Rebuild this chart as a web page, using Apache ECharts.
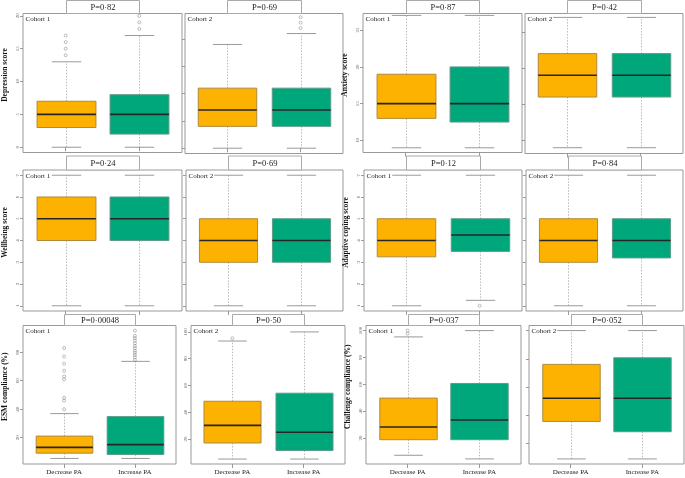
<!DOCTYPE html>
<html>
<head>
<meta charset="utf-8">
<script src="https://cdn.jsdelivr.net/npm/echarts@6/dist/echarts.min.js"></script>
<style>
  html, body { margin: 0; padding: 0; background: #fff; }
  #chart { width: 685px; height: 478px; }
</style>
</head>
<body>
<div id="chart"></div>
<script>
// x categories
const groups = ["Decrease PA", "Increase PA"];

// box stats [min, Q1, median, Q3, max] for Decrease PA / Increase PA
const depC1 = [[0, 3, 5, 7, 13], [0, 2, 5, 8, 17]];
const depC2 = [[0, 4, 7, 11, 19], [0, 4, 7, 11, 21]];
const anxC1 = [[9, 13, 15, 19, 27], [9, 12.5, 15, 20, 27]];
const anxC2 = [[9, 16, 19, 22, 27], [9, 16, 19, 22, 27]];
const wellC1 = [[1, 4, 5, 6, 7], [1, 4, 5, 6, 7]];
const wellC2 = [[1, 3, 4, 5, 7], [1, 3, 4, 5, 7]];
const copC1 = [[1, 3.25, 4, 5, 7], [1.25, 3.5, 4.25, 5, 7]];
const copC2 = [[1, 3, 4, 5, 7], [1, 3.2, 4, 5, 7]];
const esmC1 = [[5.4, 9.1, 13.2, 21.1, 36.9], [5.4, 8.2, 15.1, 34.8, 73.6]];
const esmC2 = [[5, 17, 30.2, 48.2, 93.2], [5, 11.4, 25, 54.2, 100]];
const chlC1 = [[7.1, 18.7, 28.2, 49.7, 95.3], [4.4, 18.7, 33.4, 60.6, 100]];
const chlC2 = [[8.9, 35.5, 52, 76, 100], [8.9, 28.2, 52, 80.7, 100]];

// outliers, Decrease PA / Increase PA
const depC1Out = [[14, 15, 16, 17], [18, 19, 20]];
const depC2Out = [[], [22, 23, 24]];
const copC1Out = [[], [1]];
const esmC1Out = [[83, 77, 72, 67, 63, 61, 48, 46, 40],
  [95.2, 91.5, 89.9, 88.2, 86.3, 84.4, 82.8, 81.1, 79.7, 78.1, 76.5, 74.6]];
const esmC2Out = [[95.2], []];
const chlC1Out = [[97.7, 100], []];
const none = [[], []];

const pValues = ["P=0·82", "P=0·69", "P=0·87", "P=0·42",
  "P=0·24", "P=0·69", "P=0·12", "P=0·84",
  "P=0·00048", "P=0·50", "P=0·037", "P=0·052"];

const yNames = ["Depression score", "", "Anxiety score", "",
  "Wellbeing score", "", "Adaptive coping score", "",
  "ESM compliance (%)", "", "Challenge compliance (%)", ""];

const cohorts = ["Cohort 1", "Cohort 2", "Cohort 1", "Cohort 2",
  "Cohort 1", "Cohort 2", "Cohort 1", "Cohort 2",
  "Cohort 1", "Cohort 2", "Cohort 1", "Cohort 2"];

const yTicks = [[0, 5, 10, 15, 20], [0, 5, 10, 15, 20], [10, 15, 20, 25], [10, 15, 20, 25],
  [1, 2, 3, 4, 5, 6, 7], [1, 2, 3, 4, 5, 6, 7], [1, 2, 3, 4, 5, 6, 7], [1, 2, 3, 4, 5, 6, 7],
  [20, 40, 60, 80], [20, 40, 60, 80, 100], [20, 40, 60, 80, 100], [20, 40, 60, 80, 100]];

const stats = [depC1, depC2, anxC1, anxC2, wellC1, wellC2, copC1, copC2, esmC1, esmC2, chlC1, chlC2];
const outs = [depC1Out, depC2Out, none, none, none, none, copC1Out, none, esmC1Out, esmC2Out, chlC1Out, none];

// panel layout: [left, top, width, height], y range, bracket height
const layout = [
  [23, 13.5, 159, 139], [185, 13.5, 158, 140], [363, 13.5, 159, 139], [525, 13.5, 158, 140],
  [23, 170, 159, 141], [186, 170, 157, 141], [364, 170, 158, 141], [526, 170, 157, 141],
  [23, 325.5, 153, 138.5], [191, 325.5, 154, 138.5], [366, 325.5, 155, 138.5], [529, 325.5, 155, 138.5]
];
const yRange = [[-0.8, 20.35], [-0.97, 24.67], [8.36, 27.26], [8.2, 27.54],
  [0.76, 7.24], [0.76, 7.24], [0.76, 7.24], [0.76, 7.24],
  [1.5, 98.8], [1.3, 104.8], [0.6, 103.8], [5.3, 103.6]];
const bracketH = [13, 13, 13, 13, 14, 14, 14, 14, 11, 11, 11, 11];

const fills = ["#FDB100", "#00A77B"];
const strokes = ["#b08a3c", "#5f9c88"];
const serif = "Liberation Serif";

function renderBox(params, api) {
  const x = api.value(0);
  const lo = api.coord([x, api.value(1)]);
  const q1 = api.coord([x, api.value(2)]);
  const med = api.coord([x, api.value(3)]);
  const q3 = api.coord([x, api.value(4)]);
  const hi = api.coord([x, api.value(5)]);
  const w = api.size([0.8, 0])[0];
  const cx = Math.round(lo[0]) + 0.5;
  const k = x - 1;
  const whisker = { stroke: "#aaa", lineWidth: 0.8, lineDash: [1.5, 1.5] };
  const cap = { stroke: "#999", lineWidth: 1 };
  return {
    type: "group",
    children: [
      { type: "line", shape: { x1: cx, y1: q3[1], x2: cx, y2: hi[1] }, style: whisker },
      { type: "line", shape: { x1: cx, y1: q1[1], x2: cx, y2: lo[1] }, style: whisker },
      { type: "line", shape: { x1: cx - w / 4, y1: hi[1], x2: cx + w / 4, y2: hi[1] }, style: cap },
      { type: "line", shape: { x1: cx - w / 4, y1: lo[1], x2: cx + w / 4, y2: lo[1] }, style: cap },
      { type: "rect", shape: { x: cx - w / 2, y: q3[1], width: w, height: q1[1] - q3[1] },
        style: { fill: fills[k], stroke: strokes[k], lineWidth: 1 } },
      { type: "line", shape: { x1: cx - w / 2, y1: med[1], x2: cx + w / 2, y2: med[1] },
        style: { stroke: "#262626", lineWidth: 1.6 } }
    ]
  };
}

function makeBracket(i) {
  return function (params, api) {
    const a = api.coord([api.value(0), api.value(2)]);
    const b = api.coord([api.value(1), api.value(2)]);
    const top = params.coordSys.y;
    const h = bracketH[i];
    const x1 = Math.round(a[0]) + 0.5, x2 = Math.round(b[0]) + 0.5;
    return {
      type: "group",
      children: [
        { type: "rect", shape: { x: x1, y: top - h, width: x2 - x1, height: h },
          style: { fill: "#fff", stroke: "#aaa", lineWidth: 1 } },
        { type: "text", style: { text: pValues[i], x: (x1 + x2) / 2, y: top - h / 2 + 0.5,
          align: "center", verticalAlign: "middle", fontFamily: serif, fontSize: 8.5, fill: "#222" } }
      ]
    };
  };
}

const grid = [], xAxis = [], yAxis = [], series = [], title = [];
layout.forEach(function (L, i) {
  const col = i % 4, row = Math.floor(i / 4);
  grid.push({ left: L[0], top: L[1], width: L[2], height: L[3], show: true,
    borderColor: "#999", borderWidth: 1, backgroundColor: "transparent" });
  xAxis.push({ gridIndex: i, type: "value", min: 0.42, max: 2.58,
    axisLine: { show: false }, splitLine: { show: false },
    axisTick: { show: true, customValues: [1, 2], length: 4, lineStyle: { color: "#999" } },
    axisLabel: { show: row === 2, customValues: [1, 2], margin: 5,
      formatter: function (v) { return groups[Math.round(v) - 1] || ""; },
      fontFamily: serif, fontSize: 7, color: "#222" } });
  const showLab = col % 2 === 0 || i === 9;
  yAxis.push({ gridIndex: i, type: "value", min: yRange[i][0], max: yRange[i][1],
    name: yNames[i], nameLocation: "middle", nameGap: 14,
    nameTextStyle: { fontFamily: serif, fontWeight: "bold", fontSize: 7.5, color: "#111", padding: [0, 0, 0, 16] },
    axisLine: { show: false }, splitLine: { show: false },
    axisTick: { show: true, customValues: yTicks[i], length: 3, lineStyle: { color: "#999" } },
    axisLabel: { show: showLab, customValues: yTicks[i], rotate: 90, margin: 3,
      fontSize: 5, color: "#666", fontFamily: serif } });
  const boxData = stats[i].map(function (s, k) { return [k + 1].concat(s); });
  series.push({ type: "custom", xAxisIndex: i, yAxisIndex: i, renderItem: renderBox,
    data: boxData, silent: true, z: 2 });
  const outData = [];
  outs[i].forEach(function (list, k) { list.forEach(function (v) { outData.push([k + 1, v]); }); });
  series.push({ type: "scatter", xAxisIndex: i, yAxisIndex: i, data: outData,
    symbol: "circle", symbolSize: 3, silent: true, z: 3,
    itemStyle: { color: "rgba(255,255,255,0)", borderColor: "#8a8a8a", borderWidth: 0.7 } });
  series.push({ type: "custom", xAxisIndex: i, yAxisIndex: i, renderItem: makeBracket(i),
    data: [[1, 2, yRange[i][0]]], clip: false, silent: true, z: 4 });
  title.push({ text: cohorts[i], left: L[0] + 1.5, top: L[1] + 1.5, padding: [1, 1],
    backgroundColor: "#fff", textStyle: { fontFamily: serif, fontWeight: "normal", fontSize: 7, color: "#222" } });
});

const chart = echarts.init(document.getElementById("chart"));
chart.setOption({ animation: false, backgroundColor: "#fff", title: title,
  grid: grid, xAxis: xAxis, yAxis: yAxis, series: series });
</script>
</body>
</html>
